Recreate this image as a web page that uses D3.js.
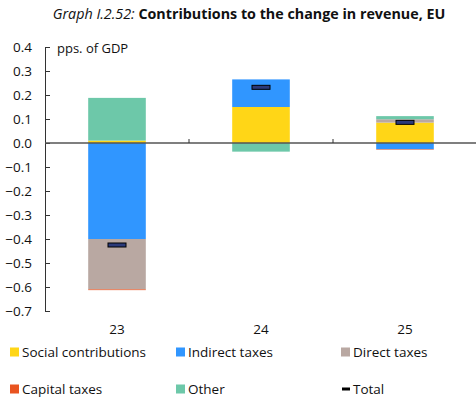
<!DOCTYPE html>
<html>
<head>
<meta charset="utf-8">
<script src="https://cdn.jsdelivr.net/npm/d3@7"></script>
<style>
  body { margin: 0; background: #fff; }
  text { font-family: "Open Sans", "DejaVu Sans", sans-serif; fill: #111; }
</style>
</head>
<body>
<div class="chart"></div>
<script>
// categories and series (pps. of GDP)
var years = ["23", "24", "25"];
var socialContrib = [0.01, 0.15, 0.085];
var indirectTaxes = [-0.40, 0.115, -0.026];
var directTaxes = [-0.21, 0.0, 0.014];
var capitalTaxes = [-0.003, 0.0, -0.002];
var otherRevenue = [0.178, -0.036, 0.013];
var totals = [-0.425, 0.232, 0.086];
var yTicks = [0.4, 0.3, 0.2, 0.1, 0.0, -0.1, -0.2, -0.3, -0.4, -0.5, -0.6, -0.7];

var seriesNames = ["Social contributions", "Indirect taxes", "Direct taxes", "Capital taxes", "Other"];
var seriesColors = ["#FFD617", "#3096FF", "#B9A8A2", "#E95420", "#6DC8A9"];

var svgWidth = 476, svgHeight = 400;

var svg = d3.select(".chart").append("svg")
  .attr("width", svgWidth)
  .attr("height", svgHeight);

// build rows for the stack
var rows = years.map(function (y, i) {
  return {
    year: y,
    "Social contributions": socialContrib[i],
    "Indirect taxes": indirectTaxes[i],
    "Direct taxes": directTaxes[i],
    "Capital taxes": capitalTaxes[i],
    "Other": otherRevenue[i],
    total: totals[i]
  };
});

var stacked = d3.stack()
  .keys(seriesNames)
  .offset(d3.stackOffsetDiverging)(rows);

var x = d3.scaleBand()
  .domain(years)
  .range([45, 477])
  .paddingInner(0.6)
  .paddingOuter(0.3);

var y = d3.scaleLinear()
  .domain([-0.7, 0.4])
  .range([311, 47]);

var color = d3.scaleOrdinal().domain(seriesNames).range(seriesColors);

// title
var title = svg.append("text")
  .attr("x", 249)
  .attr("y", 19)
  .attr("text-anchor", "middle")
  .style("font-size", "14.3px");
title.append("tspan").style("font-style", "italic").text("Graph I.2.52: ");
title.append("tspan").style("font-weight", "bold").text("Contributions to the change in revenue, EU");

// bars
svg.append("g").selectAll("g")
  .data(stacked)
  .enter().append("g")
  .attr("fill", function (d) { return color(d.key); })
  .selectAll("rect")
  .data(function (d) { return d; })
  .enter().append("rect")
  .attr("x", function (d) { return x(d.data.year); })
  .attr("width", x.bandwidth())
  .attr("y", function (d) { return y(d[1]); })
  .attr("height", function (d) { return Math.abs(y(d[0]) - y(d[1])); });

// y axis
var leftAxis = d3.axisRight(y)
  .tickValues(yTicks)
  .tickSize(5)
  .tickFormat("");
var yAxisG = svg.append("g")
  .attr("transform", "translate(45,0)")
  .call(leftAxis);
yAxisG.select(".domain").attr("stroke", "#333").attr("d", "M0.5," + y(0.4) + "V" + y(-0.7));
yAxisG.selectAll(".tick line").attr("stroke", "#333");

svg.append("g").selectAll("text")
  .data(yTicks)
  .enter().append("text")
  .attr("x", 32)
  .attr("y", function (d) { return y(d) + 5; })
  .attr("text-anchor", "end")
  .style("font-size", "13.5px")
  .text(function (d) { return d3.format(".1f")(d); });

svg.append("text")
  .attr("x", 57)
  .attr("y", 53)
  .style("font-size", "13px")
  .text("pps. of GDP");

// zero line with category separators
svg.append("line")
  .attr("x1", 45).attr("x2", 476)
  .attr("y1", y(0)).attr("y2", y(0))
  .attr("stroke", "#555")
  .attr("stroke-width", 1.5);

svg.append("g").selectAll("line")
  .data(years.slice(1))
  .enter().append("line")
  .attr("x1", function (d) { return x(d) - x.step() * x.paddingInner() / 2; })
  .attr("x2", function (d) { return x(d) - x.step() * x.paddingInner() / 2; })
  .attr("y1", y(0) - 4).attr("y2", y(0))
  .attr("stroke", "#333");

// x labels
svg.append("g").selectAll("text")
  .data(years)
  .enter().append("text")
  .attr("x", function (d) { return x(d) + x.bandwidth() / 2; })
  .attr("y", 334)
  .attr("text-anchor", "middle")
  .style("font-size", "13.5px")
  .text(function (d) { return d; });

// total markers
svg.append("g").selectAll("rect")
  .data(rows)
  .enter().append("rect")
  .attr("x", function (d) { return x(d.year) + x.bandwidth() / 2 - 9; })
  .attr("y", function (d) { return y(d.total) - 2; })
  .attr("width", 18)
  .attr("height", 4)
  .attr("fill", "#2B3A7A")
  .attr("stroke", "#000")
  .attr("stroke-width", 1);

// legend
var legendItems = seriesNames.concat(["Total"]);
var legendX = [10, 176, 341];
var legendY = [352, 389];
var legend = svg.append("g").selectAll("g")
  .data(legendItems)
  .enter().append("g")
  .attr("transform", function (d, i) {
    return "translate(" + legendX[i % 3] + "," + legendY[Math.floor(i / 3)] + ")";
  });

legend.each(function (d) {
  var g = d3.select(this);
  if (d === "Total") {
    g.append("rect").attr("x", 1).attr("y", -1.5).attr("width", 8).attr("height", 3).attr("fill", "#000");
  } else {
    g.append("rect").attr("x", 0).attr("y", -4.5).attr("width", 9).attr("height", 9).attr("fill", color(d));
  }
  g.append("text")
    .attr("x", 12)
    .attr("y", 5)
    .style("font-size", "13.5px")
    .text(d);
});
</script>
</body>
</html>
